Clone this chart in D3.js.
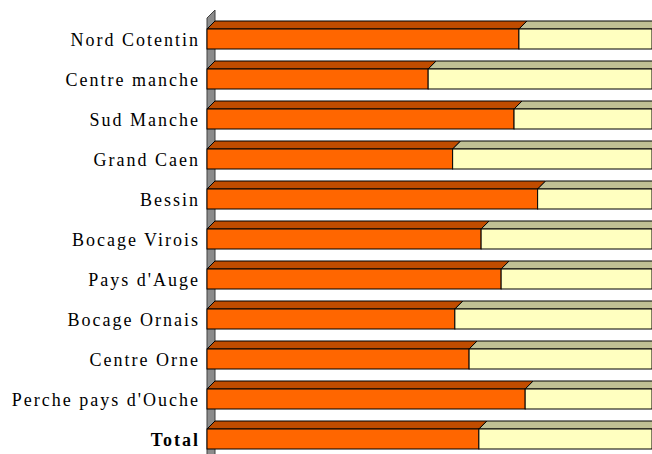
<!DOCTYPE html>
<html lang="fr">
<head>
<meta charset="utf-8">
<title>Territoires</title>
<script src="https://d3js.org/d3.v7.min.js"></script>
<style>
  body { margin: 0; background: #fff; }
  text { font-family: 'Liberation Serif', 'Times New Roman', serif; }
</style>
</head>
<body>
<div id="chart"></div>
<script>
// data (share of first series, in %)
var categories = ["Nord Cotentin", "Centre manche", "Sud Manche", "Grand Caen", "Bessin",
                  "Bocage Virois", "Pays d'Auge", "Bocage Ornais", "Centre Orne",
                  "Perche pays d'Ouche", "Total"];
var part = [70.1, 49.7, 69.0, 55.2, 74.3, 61.6, 66.1, 55.7, 58.9, 71.5, 61.1];
var rest = part.map(function(v) { return 100 - v; });

var W = 652, H = 454, d = 8;

var svg = d3.select("#chart").append("svg")
    .attr("width", W).attr("height", H);

var x = d3.scaleLinear().domain([0, 100]).range([207, 652]);
var y = d3.scaleBand().domain(categories).range([19, 459])
    .paddingInner(0.5).paddingOuter(0.25);

// side wall
var x0 = x(0);
svg.append("path")
    .attr("d", "M" + x0 + ",18 L" + (x0 + d) + "," + (18 - d) + " L" + (x0 + d) + ",480 L" + x0 + ",480 Z")
    .attr("fill", "#8c8c8c")
    .attr("stroke", "#404040")
    .attr("stroke-width", 1);

var series = [
  { vals: part, front: "#FF6600", top: "#C04C00" },
  { vals: rest, front: "#FFFFC0", top: "#C0C094" }
];

categories.forEach(function(c, i) {
  var y0 = y(c), h = y.bandwidth();
  var start = 0;
  series.forEach(function(s) {
    var xa = x(start), xb = x(start + s.vals[i]);
    start += s.vals[i];
    svg.append("path")
        .attr("d", "M" + xa + "," + y0 + " L" + (xa + d) + "," + (y0 - d) +
                   " L" + (xb + d) + "," + (y0 - d) + " L" + xb + "," + y0 + " Z")
        .attr("fill", s.top)
        .attr("stroke", "#000")
        .attr("stroke-width", 1);
    svg.append("rect")
        .attr("x", xa).attr("y", y0)
        .attr("width", xb - xa).attr("height", h)
        .attr("fill", s.front)
        .attr("stroke", "#000")
        .attr("stroke-width", 1);
  });
});

svg.selectAll(".lab")
    .data(categories)
    .enter().append("text")
    .attr("class", "lab")
    .attr("x", 200)
    .attr("y", function(c) { return y(c) + y.bandwidth() / 2; })
    .attr("dy", "0.4em")
    .attr("text-anchor", "end")
    .style("font-size", "18px")
    .style("letter-spacing", "2px")
    .style("font-weight", function(c) { return c === "Total" ? "bold" : "normal"; })
    .text(function(c) { return c; });
</script>
</body>
</html>
